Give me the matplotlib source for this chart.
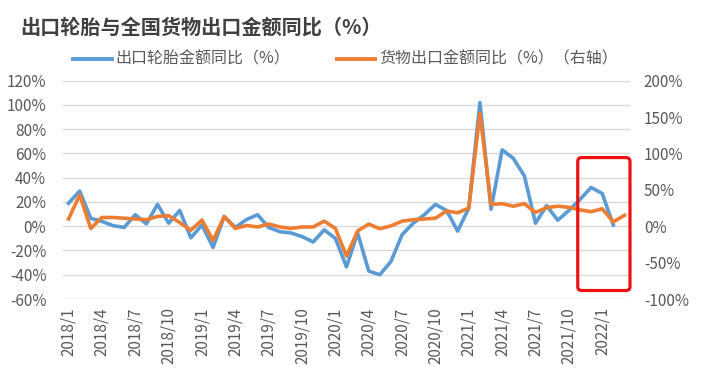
import matplotlib
matplotlib.use("Agg")
import matplotlib.pyplot as plt
from matplotlib.lines import Line2D
from matplotlib.patches import FancyBboxPatch
from matplotlib.ticker import FuncFormatter

plt.rcParams['font.family'] = ['Noto Sans CJK SC', 'DejaVu Sans']

# --- data ---
years = [2018, 2019, 2020, 2021, 2022]
months = [f"{y}/{m}" for y in years for m in range(1, 13)][:51]  # 2018/1 .. 2022/3

# 出口轮胎金额同比 (%), left axis, ends 2022/2
tire_yoy = [19, 29, 6.5, 4, 0.5, -1, 9.5, 2, 18, 2.5, 13, -9.5,
            1, -17.5, 8, -1, 5.5, 9.5, -1, -4.5, -5.5, -8.5, -13, -3,
            -10, -33.5, -5.5, -37, -40, -29, -7, 2.5, 9.5, 18, 13, -4,
            15, 102, 14, 63, 56, 41.5, 2.5, 17, 5, 13, 22, 32,
            27, 1]

# 货物出口金额同比 (%), right axis, ends 2022/3
goods_yoy = [10, 43, -3, 12, 12, 11, 10, 9, 13.5, 14.5, 5, -5.5,
             8.5, -19.5, 13.5, -3, 1, -1, 3, -1, -3, -1, -1, 7,
             -3, -41, -6.5, 3, -3.5, 0.5, 7, 9, 10, 11, 21, 18.5,
             25, 155, 30, 31, 27.5, 31, 19, 25.5, 27.5, 26, 22.5, 20,
             24, 6, 15]

left_ticks = [-60, -40, -20, 0, 20, 40, 60, 80, 100, 120]
right_ticks = [-100, -50, 0, 50, 100, 150, 200]

blue = '#5b9bd5'
orange = '#ed7d31'
grey = '#595959'

fig = plt.figure(figsize=(7.02, 3.8), dpi=100)
W, H = 702, 380
ax = fig.add_axes([63 / W, 1 - 299 / H, 567 / W, 218.3 / H])
ax2 = ax.twinx()

x = list(range(len(months)))
ax.plot(x[:len(tire_yoy)], tire_yoy, color=blue, lw=2.6, solid_joinstyle='round')
ax2.plot(x[:len(goods_yoy)], goods_yoy, color=orange, lw=2.6, solid_joinstyle='round')

ax.set_xlim(-0.5, len(months) - 0.5)
ax.set_ylim(-60, 120)
ax2.set_ylim(-100, 200)
ax.set_yticks(left_ticks)
ax2.set_yticks(right_ticks)
pct = FuncFormatter(lambda v, p: f"{v:.0f}%")
ax.yaxis.set_major_formatter(pct)
ax2.yaxis.set_major_formatter(pct)

ax.set_xticks(x[::3])
ax.set_xticklabels(months[::3], rotation=90)

ax.grid(axis='y', color='#d9d9d9', lw=1)
ax.set_axisbelow(True)
for a in (ax, ax2):
    for s in a.spines.values():
        s.set_visible(False)
ax.tick_params(axis='both', length=0, labelsize=11, labelcolor=grey)
ax.tick_params(axis='x', pad=6)
ax.tick_params(axis='y', pad=12)
ax2.tick_params(axis='y', length=0, labelsize=11, labelcolor=grey, pad=10)

# title and legend
fig.text(20 / W, 1 - 27 / H, '出口轮胎与全国货物出口金额同比（%）', fontsize=14.5,
         fontweight='bold', color='#404040', va='center', ha='left')
ly = 1 - 59 / H
fig.add_artist(Line2D([73 / W, 112 / W], [ly, ly], color=blue, lw=2.8))
fig.text(115 / W, ly, '出口轮胎金额同比（%）', fontsize=11.5, color=grey, va='center')
fig.add_artist(Line2D([337 / W, 375 / W], [ly, ly], color=orange, lw=2.8))
fig.text(379 / W, ly, '货物出口金额同比（%）（右轴）', fontsize=11.5, color=grey, va='center')

# red highlight box round the last months
fig.canvas.draw()
x0, y0 = ax.transData.transform((45.8, -53))
x1, y1 = ax.transData.transform((50.5, 56.6))
box = FancyBboxPatch((x0, y0), x1 - x0, y1 - y0,
                     boxstyle='round,pad=0,rounding_size=4',
                     transform=None, fill=False, edgecolor='#ee1111', lw=2.3)
fig.add_artist(box)

fig.savefig('out.png', dpi=100)
